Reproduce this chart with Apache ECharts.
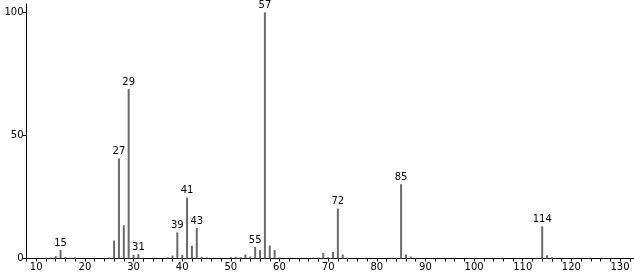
<!DOCTYPE html>
<html><head><meta charset="utf-8">
<script src="https://cdn.jsdelivr.net/npm/echarts@6/dist/echarts.min.js"></script>
<style>html,body{margin:0;padding:0;background:#fff}#c{width:634px;height:275px}</style>
</head><body><div id="c"></div>
<script>
const mz = [12,13,14,15,16,17,18,25,26,27,28,29,30,31,32,37,38,39,40,41,42,43,44,45,50,51,52,53,54,55,56,57,58,59,60,67,68,69,70,71,72,73,74,83,84,85,86,87,88,99,100,113,114,115,116];
const intensity = [0.3,0.5,1.0,3.4,0.6,0.3,0.5,0.4,7.3,40.7,13.5,68.8,1.5,1.8,0.3,0.5,1.2,10.6,1.5,24.8,5.2,12.4,0.6,0.5,0.6,0.7,0.5,1.6,0.8,4.7,3.4,100,5.3,3.4,0.4,0.4,0.4,2.3,0.6,2.7,20.3,1.6,0.3,0.3,0.3,30.2,1.6,0.8,0.3,0.3,0.3,0.3,13.1,1.3,0.5];
const labeledPeaks = [15,27,29,31,39,41,43,55,57,72,85,114];
const xLabelStep = 10;
const yTickLabels = [0,50,100];

const data = mz.map((m, i) => {
  const item = { value: [m, intensity[i]] };
  if (labeledPeaks.includes(m)) item.label = { show: true };
  return item;
});

const chart = echarts.init(document.getElementById('c'), null, { renderer: 'canvas' });
const font = 'DejaVu Sans';
chart.setOption({
  animation: false,
  backgroundColor: '#fff',
  grid: { left: 26.5, right: 0, top: 4, bottom: 16.5 },
  xAxis: {
    type: 'value', min: 8, max: 132.87, interval: 2,
    axisLine: { lineStyle: { color: '#000', width: 1 } },
    axisTick: { length: 3, lineStyle: { color: '#000' } },
    axisLabel: { color: '#000', fontFamily: font, fontSize: 10, margin: 4, showMaxLabel: false,
      formatter: v => (Math.abs(v % xLabelStep) < 1e-6 ? String(v) : '') },
    splitLine: { show: false }
  },
  yAxis: {
    type: 'value', min: 0, max: 103.4,
    axisLine: { show: true, lineStyle: { color: '#000', width: 1 } },
    axisTick: { show: true, customValues: yTickLabels, length: 4, lineStyle: { color: '#000' } },
    axisLabel: { customValues: yTickLabels, color: '#000', fontFamily: font, fontSize: 10, margin: 3 },
    splitLine: { show: false }
  },
  series: [{
    type: 'bar',
    barWidth: 2,
    itemStyle: { color: '#6a6a6a' },
    label: { show: false, position: 'top', distance: 2, color: '#000', fontFamily: font, fontSize: 10, formatter: p => String(p.value[0]) },
    data: data
  }]
});
</script></body></html>
